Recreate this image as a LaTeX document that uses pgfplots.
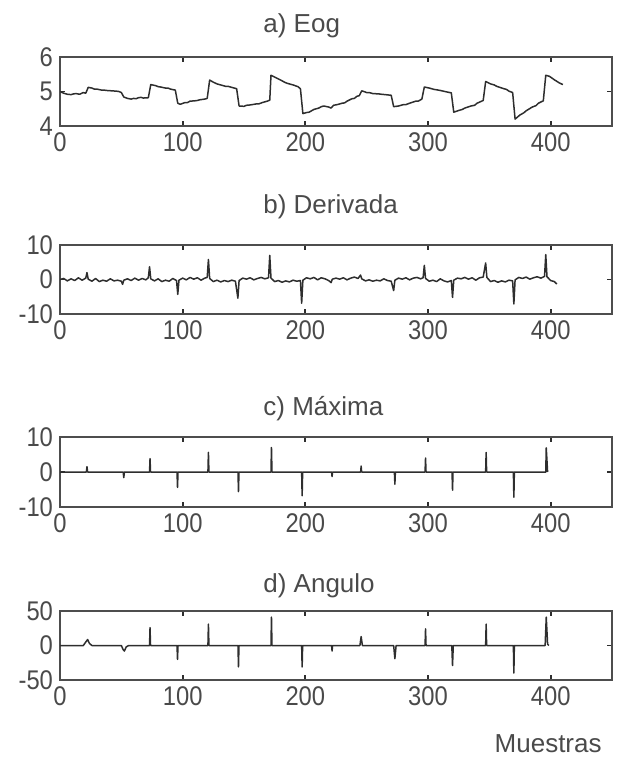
\documentclass[border=0pt]{standalone}
\usepackage{fontspec}
\setmainfont{Liberation Sans}
\newfontfamily\tickfont[FakeStretch=0.88]{Liberation Sans}
\usepackage{pgfplots}
\pgfplotsset{compat=1.18}
\definecolor{tinta}{HTML}{4A4A4A}
\definecolor{traco}{HTML}{2E2E2E}

% painel estilo matlab: caixa, ticks para dentro
\pgfplotsset{
  painel/.style={
    scale only axis, width=276pt, height=34.5pt,
    anchor=north west,
    xmin=0, xmax=450, xtick={0,100,...,400},
    tick align=inside, major tick length=2.5pt,
    xtick pos=both, ytick pos=both,
    axis line style={traco!85, line width=0.9pt},
    tick style={traco, line width=0.9pt},
    ticklabel style={font=\tickfont\fontsize{13.5}{14}\selectfont, text=tinta},
    /pgf/number format/assume math mode=true,
    title style={at={(0,1)}, anchor=west, xshift=101.5pt, inner sep=0pt,
      font=\fontsize{13}{14}\selectfont, text=tinta},
  },
  sinal/.style={traco, line width=0.75pt, line join=round},
}

\begin{document}
\begin{tikzpicture}
% a) Eog
\begin{axis}[painel, at={(30pt,-28.5pt)},
  ymin=4, ymax=6, ytick={4,5,6},
  title={a) Eog}, title style={yshift=9.5pt}]
\addplot[sinal] coordinates {
(0,5.00) (3,4.95) (6,4.92) (9,4.91) (11,4.93) (13,4.94) (16,4.92) (19,4.97) (21,4.95)
(23,5.12) (26,5.10) (28,5.07) (30,5.07) (34,5.04) (36,5.04) (38,5.03) (42,5.02) (46,5.01) (48,5.00) (50,4.97)
(52,4.84) (55,4.80) (58,4.78) (60,4.80) (62,4.79) (64,4.82) (66,4.83) (68,4.81) (72,4.82)
(74,5.20) (78,5.17) (80,5.14) (82,5.13) (86,5.10) (88,5.10) (90,5.07) (94,5.04)
(96,4.66) (98,4.63) (102,4.68) (104,4.68) (106,4.72) (110,4.73) (112,4.74) (114,4.76) (118,4.78) (120,4.80)
(122,5.33) (125,5.27) (128,5.22) (130,5.20) (135,5.15) (137,5.15) (140,5.12) (144,5.08)
(146,4.58) (150,4.57) (152,4.60) (155,4.61) (160,4.64) (162,4.64) (165,4.68) (169,4.72) (171,4.75)
(172,5.47) (176,5.40) (180,5.33) (183,5.27) (185,5.24) (190,5.19) (194,5.14) (196,5.08)
(198,4.36) (201,4.39) (203,4.40) (207,4.48) (211,4.52) (213,4.56) (215,4.58) (219,4.55) (221,4.52)
(223,4.60) (226,4.62) (230,4.66) (232,4.67) (234,4.72) (238,4.79) (240,4.80) (242,4.86) (244,4.88)
(246,5.02) (250,4.97) (252,4.97) (255,4.94) (260,4.93) (262,4.92) (265,4.91) (270,4.89)
(272,4.56) (276,4.58) (280,4.62) (282,4.62) (285,4.66) (290,4.72) (292,4.72) (295,4.78)
(297,5.13) (301,5.10) (305,5.06) (307,5.05) (310,5.03) (315,4.99) (319,4.96)
(321,4.40) (325,4.45) (328,4.48) (330,4.52) (335,4.58) (338,4.60) (340,4.66) (345,4.74)
(347,5.29) (351,5.22) (354,5.19) (356,5.15) (361,5.09) (364,5.06) (366,5.01) (369,4.97)
(371,4.20) (375,4.32) (378,4.38) (380,4.44) (385,4.55) (388,4.59) (390,4.66) (394,4.73)
(396,5.47) (399,5.44) (403,5.34) (407,5.25) (410,5.20)
};
\end{axis}

% b) Derivada
\begin{axis}[painel, at={(30pt,-122.5pt)},
  ymin=-10, ymax=10, ytick={-10,0,10},
  title={b) Derivada}, title style={yshift=13pt}]
\addplot[sinal] coordinates {
(0,0) (3,0.3) (6,-0.4) (9,0.2) (12,-0.3) (15,0.5) (18,-0.2) (21,0.4) (22,2.0) (23,0.1)
(26,-0.5) (29,0.3) (32,-0.6) (35,-0.2) (38,-0.5) (41,0.2) (44,-0.4) (47,-0.2) (50,-0.5)
(51,-1.4) (52,-0.2) (55,0.2) (58,-0.3) (61,0.4) (64,-0.2) (67,0.3) (70,-0.1) (72,0.5)
(73,3.7) (74,0.2) (77,-0.4) (80,0.2) (83,-0.6) (86,-0.2) (89,-0.5) (92,0.3) (95,-0.3)
(96,-4.3) (97,-0.2) (100,0.4) (103,-0.1) (106,0.6) (109,0.1) (112,0.5) (115,-0.2) (118,0.4) (120,0.6)
(121,5.8) (122,0.3) (125,-0.6) (128,-0.2) (131,-0.7) (134,-0.3) (137,-0.6) (140,-0.2) (143,-0.5)
(145,-5.4) (146,-0.3) (149,0.4) (152,0.1) (155,0.5) (158,-0.1) (161,0.3) (164,0.6) (167,0.2) (170,0.5)
(171,7.0) (172,0.4) (175,-0.6) (178,-0.3) (181,-0.8) (184,-0.4) (187,-0.7) (190,-0.2) (193,-0.5) (196,-0.3)
(197,-6.9) (198,-0.2) (201,0.5) (204,0.2) (207,0.6) (210,-0.1) (213,0.5) (216,0.2) (219,-0.3)
(221,-0.9) (222,0.1) (225,0.4) (228,0.1) (231,0.5) (234,-0.1) (237,0.4) (240,0.7) (243,0.3)
(245,1.3) (246,0.2) (249,-0.4) (252,-0.1) (255,-0.5) (258,-0.2) (261,-0.4) (264,0.2) (267,-0.3) (270,-0.5)
(272,-3.2) (273,-0.2) (276,0.4) (279,0.1) (282,0.5) (285,-0.1) (288,0.4) (291,0.6) (294,0.2) (296,0.5)
(297,4.1) (298,0.3) (301,-0.5) (304,-0.2) (307,-0.6) (310,0.2) (313,-0.4) (316,-0.7) (319,-0.3)
(320,-5.2) (321,-0.2) (324,0.4) (327,0.2) (330,0.6) (333,0.1) (336,0.5) (339,-0.2) (342,0.5) (345,0.7)
(347,4.8) (348,0.6) (351,-0.6) (354,-0.3) (357,-0.8) (360,-0.4) (363,-0.7) (366,-0.2) (369,-0.4)
(370,-7.1) (371,-0.1) (374,0.6) (377,0.3) (380,0.7) (383,0.1) (386,0.5) (389,0.8) (392,0.4) (395,0.9)
(396,7.2) (397,0.8) (400,-0.3) (403,-0.6) (405,-1.3)
};
\end{axis}

% c) Maxima
\begin{axis}[painel, at={(30pt,-218.5pt)}, height=35pt,
  ymin=-10, ymax=10, ytick={-10,0,10},
  title={c) Máxima}, title style={yshift=8pt}]
\addplot[sinal] coordinates {
(0,0) (21.5,0) (22,1.5) (22.5,0) (51.5,0) (52,-1.6) (52.5,0)
(73,0) (73.4,3.8) (73.8,0) (95.4,0) (95.8,-4.4) (96.2,0)
(120.6,0) (121,5.6) (121.4,0) (145.1,0) (145.5,-5.6) (145.9,0)
(172,0) (172.4,7.0) (172.8,0) (197,0) (197.4,-6.8) (197.8,0)
(221.4,0) (221.8,-1.3) (222.2,0) (245.1,0) (245.5,1.7) (245.9,0)
(272.6,0) (273,-3.5) (273.4,0) (297.6,0) (298,4.0) (298.4,0)
(319.6,0) (320,-5.2) (320.4,0) (347,0) (347.4,5.6) (347.8,0)
(369.6,0) (370,-7.2) (370.4,0) (396,0) (396.4,6.9) (397.5,0)
};
\end{axis}

% d) Angulo
\begin{axis}[painel, at={(30pt,-305.5pt)},
  ymin=-50, ymax=50, ytick={-50,0,50},
  title={d) Angulo}, title style={yshift=6.5pt},
  xlabel={Muestras},
  xlabel style={at={(1,0)}, anchor=north east, xshift=-5pt, yshift=-27pt, inner sep=0pt,
    font=\fontsize{13}{14}\selectfont, text=tinta}]
\addplot[sinal] coordinates {
(0,0) (19,0) (21,5) (22.5,8.7) (24,3) (26,0)
(50,0) (51.5,-6) (52.5,-8) (54,-2) (56,0)
(73,0) (73.4,26) (73.8,0) (95.4,0) (95.8,-20) (96.2,0)
(120.6,0) (121,31) (121.4,0) (145.1,0) (145.5,-31) (145.9,0)
(172,0) (172.4,41) (172.8,0) (197,0) (197.4,-31) (197.8,0)
(221.4,0) (221.8,-8) (222.2,0) (244.5,0) (245.5,13) (246.5,0)
(272,0) (273,-19) (274,0) (297.6,0) (298,24) (298.4,0)
(319.4,0) (320,-29) (320.6,0) (347,0) (347.4,31) (347.8,0)
(369.6,0) (370,-40) (370.4,0) (395.5,0) (396.4,41) (397.5,2) (398.5,0)
};
\end{axis}

\pgfresetboundingbox
\path[use as bounding box] (0pt,0pt) rectangle (309.5pt,-380pt);
\end{tikzpicture}
\end{document}
